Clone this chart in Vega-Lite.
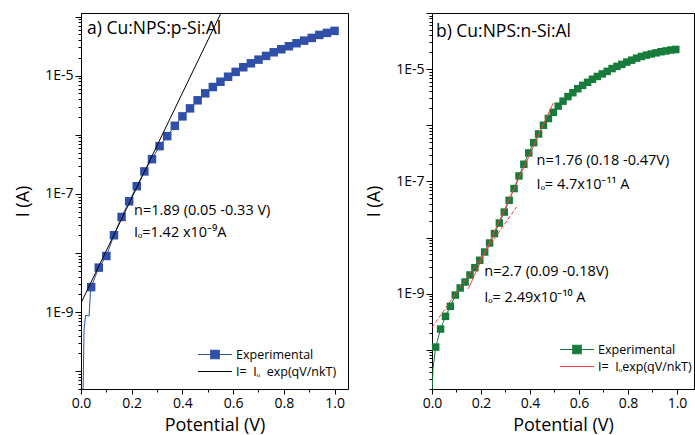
{
  "$schema": "https://vega.github.io/schema/vega-lite/v6.json",
  "padding": {"left": 14, "top": 8, "right": 0, "bottom": 0},
  "spacing": 16,
  "resolve": {"scale": {"color": "independent"}, "legend": {"color": "independent"}},
  "config": {
    "font": "Open Sans",
    "view": {"stroke": "#000", "strokeWidth": 1},
    "axis": {"domainColor": "#000", "tickColor": "#000", "labelColor": "#000", "titleColor": "#000", "labelFont": "Open Sans", "titleFont": "Open Sans", "labelFontSize": 14, "titleFontSize": 18, "titleFontWeight": "normal", "grid": false, "labelOverlap": false, "labelFlush": false},
    "legend": {"labelFont": "Open Sans", "labelFontSize": 12.5, "labelColor": "#000", "padding": 0, "labelOffset": 3, "rowPadding": 0, "clipHeight": 17, "symbolSize": 1156, "symbolStrokeWidth": 1.2, "orient": "none", "title": null}
  },
  "datasets": {
    "expA": [
      {"V": 0.008, "I": 4e-11, "m": 0},
      {"V": 0.012, "I": 5.0e-10, "m": 0},
      {"V": 0.018, "I": 8.8e-10, "m": 0},
      {"V": 0.032, "I": 8.6e-10, "m": 0},
      {"V": 0.037, "I": 2.1e-9, "m": 0},
      {"V": 0.04, "I": 2.65e-9, "m": 1},
      {"V": 0.07, "I": 5.66e-9, "m": 1},
      {"V": 0.10, "I": 8.9e-9, "m": 1},
      {"V": 0.13, "I": 2.0e-8, "m": 1},
      {"V": 0.16, "I": 4.07e-8, "m": 1},
      {"V": 0.19, "I": 7.5e-8, "m": 1},
      {"V": 0.22, "I": 1.35e-7, "m": 1},
      {"V": 0.25, "I": 2.4e-7, "m": 1},
      {"V": 0.28, "I": 3.87e-7, "m": 1},
      {"V": 0.31, "I": 6.43e-7, "m": 1},
      {"V": 0.34, "I": 9.5e-7, "m": 1},
      {"V": 0.37, "I": 1.42e-6, "m": 1},
      {"V": 0.40, "I": 2.05e-6, "m": 1},
      {"V": 0.43, "I": 2.8e-6, "m": 1},
      {"V": 0.46, "I": 3.83e-6, "m": 1},
      {"V": 0.49, "I": 5.03e-6, "m": 1},
      {"V": 0.52, "I": 6.43e-6, "m": 1},
      {"V": 0.55, "I": 7.9e-6, "m": 1},
      {"V": 0.58, "I": 9.6e-6, "m": 1},
      {"V": 0.61, "I": 1.16e-5, "m": 1},
      {"V": 0.64, "I": 1.39e-5, "m": 1},
      {"V": 0.67, "I": 1.62e-5, "m": 1},
      {"V": 0.70, "I": 1.87e-5, "m": 1},
      {"V": 0.73, "I": 2.16e-5, "m": 1},
      {"V": 0.76, "I": 2.49e-5, "m": 1},
      {"V": 0.79, "I": 2.8e-5, "m": 1},
      {"V": 0.82, "I": 3.15e-5, "m": 1},
      {"V": 0.85, "I": 3.54e-5, "m": 1},
      {"V": 0.88, "I": 3.92e-5, "m": 1},
      {"V": 0.91, "I": 4.36e-5, "m": 1},
      {"V": 0.94, "I": 4.9e-5, "m": 1},
      {"V": 0.97, "I": 5.3e-5, "m": 1},
      {"V": 1.00, "I": 5.73e-5, "m": 1}
    ],
    "fitA": [
      {"V": 0.0, "I": 1.42e-9},
      {"V": 0.6, "I": 3.06e-4}
    ],
    "txtA": [
      {"V": 0.209, "I": 5.1e-8, "t": "n=1.89 (0.05 -0.33 V)"},
      {"V": 0.209, "I": 2.16e-8, "t": "Iₒ=1.42 x10⁻⁹A"}
    ],
    "lblA": [
      {"V": 0.024, "I": 6.07e-5, "t": "a) Cu:NPS:p-Si:Al"}
    ],
    "expB": [
      {"V": 0.001, "I": 1.9e-11, "m": 0},
      {"V": 0.004, "I": 4.5e-11, "m": 0},
      {"V": 0.015, "I": 1.117e-10, "m": 1},
      {"V": 0.035, "I": 2.34e-10, "m": 1},
      {"V": 0.055, "I": 3.94e-10, "m": 1},
      {"V": 0.075, "I": 5.94e-10, "m": 1},
      {"V": 0.095, "I": 9.44e-10, "m": 1},
      {"V": 0.115, "I": 1.26e-9, "m": 1},
      {"V": 0.135, "I": 1.61e-9, "m": 1},
      {"V": 0.155, "I": 2.15e-9, "m": 1},
      {"V": 0.175, "I": 2.9e-9, "m": 1},
      {"V": 0.195, "I": 3.93e-9, "m": 1},
      {"V": 0.215, "I": 5.52e-9, "m": 1},
      {"V": 0.235, "I": 7.98e-9, "m": 1},
      {"V": 0.255, "I": 1.175e-8, "m": 1},
      {"V": 0.275, "I": 1.81e-8, "m": 1},
      {"V": 0.295, "I": 2.84e-8, "m": 1},
      {"V": 0.315, "I": 4.6e-8, "m": 1},
      {"V": 0.335, "I": 7.45e-8, "m": 1},
      {"V": 0.355, "I": 1.25e-7, "m": 1},
      {"V": 0.375, "I": 2.02e-7, "m": 1},
      {"V": 0.395, "I": 3.21e-7, "m": 1},
      {"V": 0.415, "I": 4.9e-7, "m": 1},
      {"V": 0.435, "I": 7.0e-7, "m": 1},
      {"V": 0.455, "I": 1.0e-6, "m": 1},
      {"V": 0.475, "I": 1.32e-6, "m": 1},
      {"V": 0.495, "I": 1.7e-6, "m": 1},
      {"V": 0.515, "I": 2.19e-6, "m": 1},
      {"V": 0.535, "I": 2.69e-6, "m": 1},
      {"V": 0.555, "I": 3.24e-6, "m": 1},
      {"V": 0.575, "I": 3.8e-6, "m": 1},
      {"V": 0.595, "I": 4.47e-6, "m": 1},
      {"V": 0.615, "I": 5.13e-6, "m": 1},
      {"V": 0.635, "I": 5.82e-6, "m": 1},
      {"V": 0.655, "I": 6.61e-6, "m": 1},
      {"V": 0.675, "I": 7.41e-6, "m": 1},
      {"V": 0.695, "I": 8.22e-6, "m": 1},
      {"V": 0.715, "I": 9.12e-6, "m": 1},
      {"V": 0.735, "I": 1.023e-5, "m": 1},
      {"V": 0.755, "I": 1.122e-5, "m": 1},
      {"V": 0.775, "I": 1.216e-5, "m": 1},
      {"V": 0.795, "I": 1.334e-5, "m": 1},
      {"V": 0.815, "I": 1.445e-5, "m": 1},
      {"V": 0.835, "I": 1.567e-5, "m": 1},
      {"V": 0.855, "I": 1.679e-5, "m": 1},
      {"V": 0.875, "I": 1.778e-5, "m": 1},
      {"V": 0.895, "I": 1.862e-5, "m": 1},
      {"V": 0.915, "I": 1.95e-5, "m": 1},
      {"V": 0.935, "I": 2.04e-5, "m": 1},
      {"V": 0.955, "I": 2.11e-5, "m": 1},
      {"V": 0.975, "I": 2.19e-5, "m": 1},
      {"V": 0.995, "I": 2.24e-5, "m": 1}
    ],
    "fitB1": [
      {"V": 0.148, "I": 1.216e-9},
      {"V": 0.495, "I": 2.49e-6}
    ],
    "fitB2": [
      {"V": 0.0, "I": 2.49e-10},
      {"V": 0.345, "I": 3.49e-8}
    ],
    "txtB": [
      {"V": 0.427, "I": 2.28e-7, "t": "n=1.76 (0.18 -0.47V)"},
      {"V": 0.427, "I": 8.77e-8, "t": "Iₒ= 4.7x10⁻¹¹ A"},
      {"V": 0.2135, "I": 2.43e-9, "t": "n=2.7 (0.09 -0.18V)"},
      {"V": 0.2135, "I": 8.5e-10, "t": "Iₒ= 2.49x10⁻¹⁰ A"}
    ],
    "lblB": [
      {"V": 0.016, "I": 4.55e-5, "t": "b) Cu:NPS:n-Si:Al"}
    ]
  },
  "hconcat": [
    {
      "width": 267,
      "height": 376,
      "encoding": {
        "x": {"field": "V", "type": "quantitative", "title": "Potential (V)",
          "scale": {"domain": [0, 1.053], "nice": false, "zero": false},
          "axis": {"values": [0, 0.1, 0.2, 0.3, 0.4, 0.5, 0.6, 0.7, 0.8, 0.9, 1.0],
            "labelExpr": "round(datum.value*10)%2==0 ? format(datum.value,'.1f') : ''",
            "tickSize": {"condition": {"test": "round(datum.value*10)%2==0", "value": 5}, "value": 3},
            "labelPadding": 2, "titlePadding": 6}},
        "y": {"field": "I", "type": "quantitative", "title": "I (A)",
          "scale": {"type": "log", "domain": [5e-11, 1.15e-4], "nice": false},
          "axis": {"values": [5e-11, 6e-11, 7e-11, 8e-11, 9e-11, 1e-10, 2e-10, 3e-10, 4e-10, 5e-10, 6e-10, 7e-10, 8e-10, 9e-10, 1e-9, 2e-9, 3e-9, 4e-9, 5e-9, 6e-9, 7e-9, 8e-9, 9e-9, 1e-8, 2e-8, 3e-8, 4e-8, 5e-8, 6e-8, 7e-8, 8e-8, 9e-8, 1e-7, 2e-7, 3e-7, 4e-7, 5e-7, 6e-7, 7e-7, 8e-7, 9e-7, 1e-6, 2e-6, 3e-6, 4e-6, 5e-6, 6e-6, 7e-6, 8e-6, 9e-6, 1e-5, 2e-5, 3e-5, 4e-5, 5e-5, 6e-5, 7e-5, 8e-5, 9e-5, 1e-4],
            "labelFlush": true,
            "labelExpr": "(abs(log(datum.value)/LN10 - round(log(datum.value)/LN10)) < 0.001 && abs(round(log(datum.value)/LN10))%2==1) ? '1E' + round(log(datum.value)/LN10) : ''",
            "tickSize": {"condition": {"test": "abs(log(datum.value)/LN10 - round(log(datum.value)/LN10)) < 0.001", "value": 6}, "value": 3},
            "labelPadding": 2, "titlePadding": 12}}
      },
      "layer": [
        {"data": {"name": "expA"}, "mark": {"type": "line", "strokeWidth": 1, "clip": true},
          "encoding": {"color": {"datum": "Experimental", "scale": {"domain": ["Experimental", "I= \u00a0Iₒ\u00a0 exp(qV/nkT)"], "range": ["#2f4fa8", "#000000"]},
            "legend": {"legendX": 116, "legendY": 333, "encode": {"symbols": {"update": {
              "shape": {"signal": "datum.value === 'Experimental' ? 'M-1,0H1M-0.25,-0.25H0.25V0.25H-0.25Z' : 'M-1,0H1'"},
              "fill": {"signal": "datum.value === 'Experimental' ? '#2f4fa8' : 'transparent'"},
              "stroke": {"signal": "datum.value === 'Experimental' ? '#4a68c0' : '#000000'"}}}}}}}},
        {"data": {"name": "expA"}, "transform": [{"filter": "datum.m == 1"}], "mark": {"type": "square", "size": 72, "opacity": 1},
          "encoding": {"color": {"datum": "Experimental"}}},
        {"data": {"name": "fitA"}, "mark": {"type": "line", "strokeWidth": 1, "clip": true},
          "encoding": {"color": {"datum": "I= \u00a0Iₒ\u00a0 exp(qV/nkT)"}}},
        {"data": {"name": "txtA"}, "mark": {"type": "text", "align": "left", "baseline": "middle", "fontSize": 14.5, "font": "Open Sans", "color": "#000"},
          "encoding": {"text": {"field": "t"}}},
        {"data": {"name": "lblA"}, "mark": {"type": "text", "align": "left", "baseline": "middle", "fontSize": 17.5, "font": "Open Sans", "color": "#000"},
          "encoding": {"text": {"field": "t"}}}
      ]
    },
    {
      "width": 262,
      "height": 376,
      "encoding": {
        "x": {"field": "V", "type": "quantitative", "title": "Potential (V)",
          "scale": {"domain": [0, 1.0694], "nice": false, "zero": false},
          "axis": {"values": [0, 0.1, 0.2, 0.3, 0.4, 0.5, 0.6, 0.7, 0.8, 0.9, 1.0],
            "labelExpr": "round(datum.value*10)%2==0 ? format(datum.value,'.1f') : ''",
            "tickSize": {"condition": {"test": "round(datum.value*10)%2==0", "value": 5}, "value": 3},
            "labelPadding": 2, "titlePadding": 6}},
        "y": {"field": "I", "type": "quantitative", "title": "I (A)",
          "scale": {"type": "log", "domain": [2e-11, 1e-4], "nice": false},
          "axis": {"values": [2e-11, 3e-11, 4e-11, 5e-11, 6e-11, 7e-11, 8e-11, 9e-11, 1e-10, 2e-10, 3e-10, 4e-10, 5e-10, 6e-10, 7e-10, 8e-10, 9e-10, 1e-9, 2e-9, 3e-9, 4e-9, 5e-9, 6e-9, 7e-9, 8e-9, 9e-9, 1e-8, 2e-8, 3e-8, 4e-8, 5e-8, 6e-8, 7e-8, 8e-8, 9e-8, 1e-7, 2e-7, 3e-7, 4e-7, 5e-7, 6e-7, 7e-7, 8e-7, 9e-7, 1e-6, 2e-6, 3e-6, 4e-6, 5e-6, 6e-6, 7e-6, 8e-6, 9e-6, 1e-5, 2e-5, 3e-5, 4e-5, 5e-5, 6e-5, 7e-5, 8e-5, 9e-5, 1e-4],
            "labelFlush": true,
            "labelExpr": "(abs(log(datum.value)/LN10 - round(log(datum.value)/LN10)) < 0.001 && abs(round(log(datum.value)/LN10))%2==1) ? '1E' + round(log(datum.value)/LN10) : ''",
            "tickSize": {"condition": {"test": "abs(log(datum.value)/LN10 - round(log(datum.value)/LN10)) < 0.001", "value": 6}, "value": 3},
            "labelPadding": 2, "titlePadding": 12}}
      },
      "layer": [
        {"data": {"name": "expB"}, "mark": {"type": "line", "strokeWidth": 1, "clip": true},
          "encoding": {"color": {"datum": "Experimental", "scale": {"domain": ["Experimental", "I= \u00a0Iₒexp(qV/nkT)"], "range": ["#177c3b", "#ff3b3b"]},
            "legend": {"legendX": 127, "legendY": 328, "encode": {"symbols": {"update": {
              "shape": {"signal": "datum.value === 'Experimental' ? 'M-1,0H1M-0.25,-0.25H0.25V0.25H-0.25Z' : 'M-1,0H1'"},
              "fill": {"signal": "datum.value === 'Experimental' ? '#177c3b' : 'transparent'"},
              "stroke": {"signal": "datum.value === 'Experimental' ? '#2f8f50' : '#ff3b3b'"}}}}}}}},
        {"data": {"name": "expB"}, "transform": [{"filter": "datum.m == 1"}], "mark": {"type": "square", "size": 56, "opacity": 1},
          "encoding": {"color": {"datum": "Experimental"}}},
        {"data": {"name": "fitB1"}, "mark": {"type": "line", "strokeWidth": 1, "clip": true},
          "encoding": {"color": {"datum": "I= \u00a0Iₒexp(qV/nkT)"}}},
        {"data": {"name": "fitB2"}, "mark": {"type": "line", "strokeWidth": 1, "clip": true, "strokeDash": [4, 2]},
          "encoding": {"color": {"datum": "I= \u00a0Iₒexp(qV/nkT)"}}},
        {"data": {"name": "txtB"}, "mark": {"type": "text", "align": "left", "baseline": "middle", "fontSize": 14.5, "font": "Open Sans", "color": "#000"},
          "encoding": {"text": {"field": "t"}}},
        {"data": {"name": "lblB"}, "mark": {"type": "text", "align": "left", "baseline": "middle", "fontSize": 17.5, "font": "Open Sans", "color": "#000"},
          "encoding": {"text": {"field": "t"}}}
      ]
    }
  ]
}
